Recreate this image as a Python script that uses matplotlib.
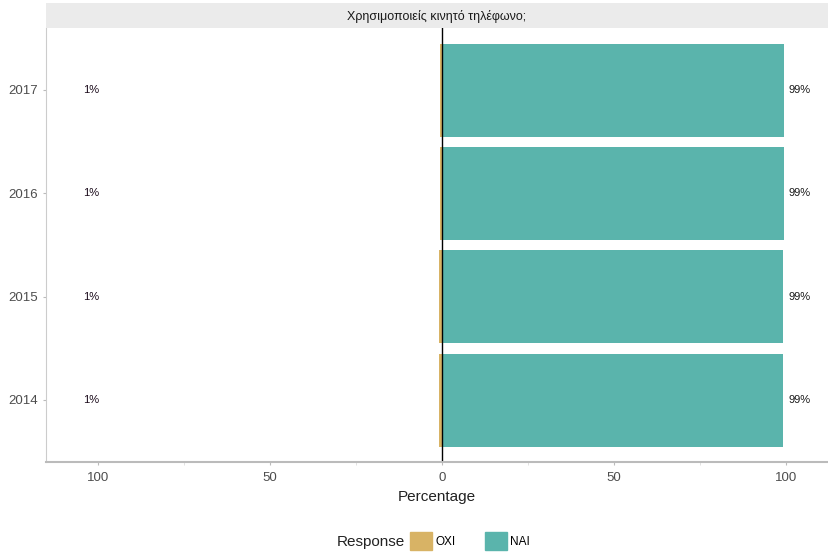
import matplotlib.pyplot as plt
from matplotlib.patches import Patch

plt.rcParams['font.family'] = ['Liberation Sans', 'DejaVu Sans']

# data
years = ['2014', '2015', '2016', '2017']
oxi = [0.9, 0.9, 0.6, 0.6]
nai = [99.1, 99.1, 99.4, 99.4]
oxi_labels = ['1%', '1%', '1%', '1%']
nai_labels = ['99%', '99%', '99%', '99%']
title = 'Χρησιμοποιείς κινητό τηλέφωνο;'

col_oxi = '#D8B365'
col_nai = '#5AB4AC'

fig = plt.figure(figsize=(8.29, 5.53), dpi=100)
W, H = 829, 553
ax = fig.add_axes([46 / W, (H - 462) / H, (828 - 46) / W, (462 - 28) / H])

pos = range(1, len(years) + 1)
ax.barh(pos, [-v for v in oxi], height=0.9, color=col_oxi)
ax.barh(pos, nai, height=0.9, color=col_nai)

for p, lo, hi in zip(pos, oxi_labels, nai_labels):
    ax.text(-102, p, lo, ha='center', va='center', fontsize=8, color='#1a0a1a')
    ax.text(104, p, hi, ha='center', va='center', fontsize=8, color='#1a1a1a')

ax.axvline(0, color='black', lw=1)

ax.set_xlim(-115.1, 112.2)
ax.set_ylim(0.4, 4.6)
ax.set_yticks(list(pos))
ax.set_yticklabels(years)
ax.set_xticks([-100, -50, 0, 50, 100])
ax.set_xticklabels(['100', '50', '0', '50', '100'])
ax.set_xticks([-75, -25, 25, 75], minor=True)
ax.tick_params(axis='both', colors='#bbbbbb', labelcolor='#4d4d4d', labelsize=9.5, length=2.5)
ax.tick_params(axis='x', pad=5)
ax.tick_params(axis='x', which='minor', colors='#dddddd', length=2.5)
ax.set_xlabel('Percentage', fontsize=11, color='#222222', labelpad=4)

for s in ['top', 'right']:
    ax.spines[s].set_visible(False)
ax.spines['left'].set_color('#cccccc')
ax.spines['bottom'].set_color('#bbbbbb')
ax.spines['bottom'].set_linewidth(1.5)

# strip on top
strip = fig.add_axes([46 / W, (H - 28) / H, (828 - 46) / W, 25 / H])
strip.set_facecolor('#EBEBEB')
strip.set_xticks([])
strip.set_yticks([])
for s in strip.spines.values():
    s.set_visible(False)
strip.text(0.5, 0.45, title, ha='center', va='center', fontsize=9, color='#1a1a1a',
           transform=strip.transAxes)

# legend
fig.text(337 / W, 1 - 542 / H, 'Response', ha='left', va='center', fontsize=11, color='#222222')
handles = [Patch(color=col_oxi, label='ΟΧΙ'), Patch(color=col_nai, label='ΝΑΙ')]
fig.legend(handles=handles, loc='center left', bbox_to_anchor=(410 / W, 1 - 541 / H),
           ncol=2, frameon=False, fontsize=8.5, handlelength=1.86, handleheight=1.86,
           handletextpad=0.3, columnspacing=2.45, borderaxespad=0, borderpad=0)

fig.savefig('out.png', dpi=100)
